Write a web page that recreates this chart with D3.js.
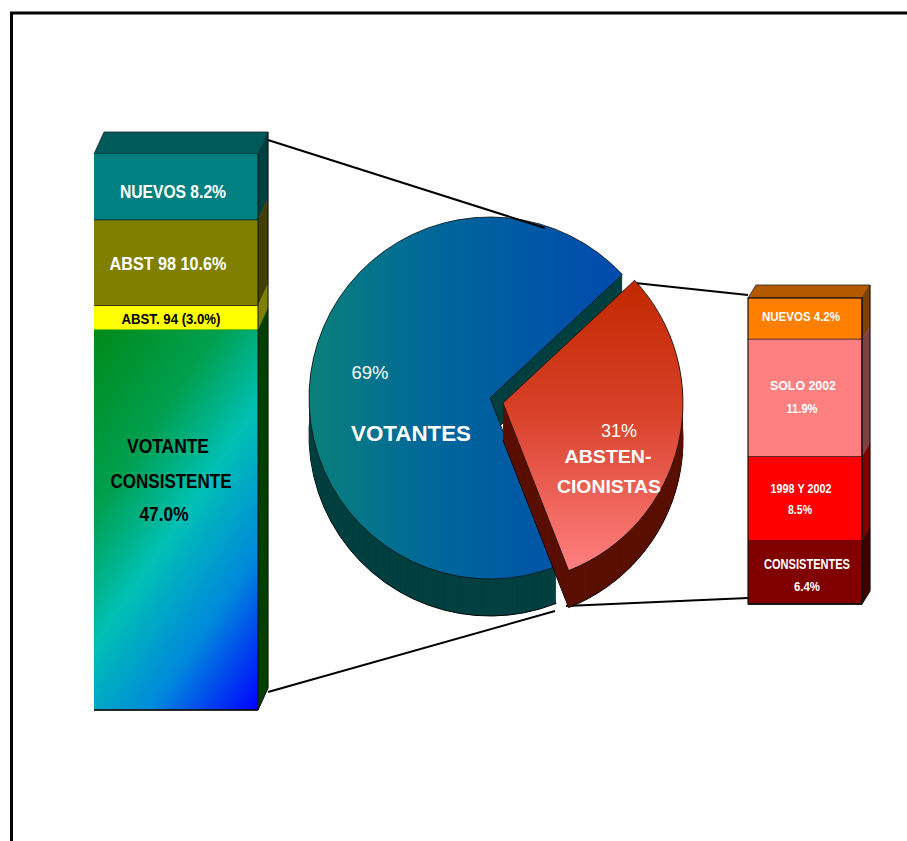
<!DOCTYPE html>
<html><head><meta charset="utf-8">
<script src="https://cdn.jsdelivr.net/npm/d3@7"></script>
<style>html,body{margin:0;padding:0;background:#fff}svg{display:block}text{font-family:"Liberation Sans",Arial,sans-serif}</style>
</head><body><svg id="c" width="907" height="841"></svg>
<script>
// ---- data ----
const pieNames = ["ABSTENCIONISTAS", "VOTANTES"];
const pieValues = [31, 69];
const leftNames = ["NUEVOS", "ABST 98", "ABST. 94", "VOTANTE CONSISTENTE"];
const leftValues = [8.2, 10.6, 3.0, 47.0];
const rightNames = ["NUEVOS", "SOLO 2002", "1998 Y 2002", "CONSISTENTES"];
const rightValues = [4.2, 11.9, 8.5, 6.4];
// ---- text ----
const leftTexts = ["NUEVOS  8.2%", "ABST 98  10.6%", "ABST. 94 (3.0%)", "VOTANTE", "CONSISTENTE", "47.0%"];
const pieTexts = ["69%", "VOTANTES", "31%", "ABSTEN-", "CIONISTAS"];
const rightTexts = ["NUEVOS  4.2%", "SOLO 2002", "11.9%", "1998 Y 2002", "8.5%", "CONSISTENTES", "6.4%"];
// ---- layout ----
const leftTextPos = [[173,198,106,19,700,"#fff"],[168,270,117,19,700,"#fff"],[171,324,99,15,700,"#000"],[168,453,82,20,700,"#000"],[171,488,121,20,700,"#000"],[164,521,49,20,700,"#000"]];
const pieTextPos = [[370,379,37,18,400,"#fff"],[411,441,120,22,700,"#fff"],[619,437,36,18,400,"#fff"],[608,463,87,19,700,"#fff"],[609,493,104,19,700,"#fff"]];
const rightTextPos = [[801,321,78,13,700,"#fff"],[803,390,66,13,700,"#fff"],[802,413,31,13,700,"#fff"],[801,493,61,12,700,"#fff"],[800,514,24,13,700,"#fff"],[807,569,86,14,700,"#fff"],[807,591,26,13,700,"#fff"]];

const svg = d3.select("#c");
svg.append("rect").attr("width",907).attr("height",841).attr("fill","#fff");
const defs = svg.append("defs");
function grad(id, attrs, stops){
  const g = defs.append("linearGradient").attr("id",id);
  Object.entries(attrs).forEach(([k,v])=>g.attr(k,v));
  stops.forEach(([o,c])=>g.append("stop").attr("offset",o).attr("stop-color",c));
}
grad("gGreen",{gradientUnits:"userSpaceOnUse",x1:94,y1:329,x2:383,y2:526},[[0,"#008a18"],[.3,"#00a050"],[.51,"#00c0b4"],[.75,"#0088dc"],[1,"#0000ff"]]);
// the two pie gradients are given relative to each slice's centre
grad("gBlue",{gradientUnits:"userSpaceOnUse",x1:-182,y1:0,x2:120,y2:0},[[0,"#0a807a"],[.4,"#00689a"],[1,"#004cac"]]);
grad("gRed",{gradientUnits:"userSpaceOnUse",x1:0,y1:-123,x2:0,y2:167},[[0,"#c02800"],[.45,"#d84028"],[1,"#ff8080"]]);

// frame
svg.append("path").attr("d","M11.5,841V13H907").attr("fill","none").attr("stroke","#000").attr("stroke-width",3);

// connector lines behind the pie
const lineGen = d3.line();
[[[268,692],[555,611]],[[635,283],[748,295]],[[566,606],[748,598]]].forEach(p=>
  svg.append("path").attr("d",lineGen(p)).attr("fill","none").attr("stroke","#000").attr("stroke-width",2));

// pie
const startDeg = 47 * Math.PI/180;
const slices = d3.pie().sort(null).startAngle(startDeg).endAngle(startDeg+2*Math.PI)(pieValues);
const sliceStyle = [
  {cx:503,cy:403,r:180,top:"url(#gRed)",side:"#5a1000"},
  {cx:490,cy:398,r:181,top:"url(#gBlue)",side:"#004040"}
];
const arc = d3.arc().innerRadius(0);
const depth = 37;
[1,0].forEach(i=>{
  const st = sliceStyle[i], d = arc.outerRadius(st.r)(slices[i]);
  const g = svg.append("g").attr("class","slice").attr("data-name",pieNames[i]);
  g.append("path").attr("d",d).attr("transform",`translate(${st.cx},${st.cy+depth})`).attr("fill",st.side).attr("stroke","#000").attr("stroke-width",1);
  d3.range(depth-1,0,-1).forEach(k=>
    g.append("path").attr("d",d).attr("transform",`translate(${st.cx},${st.cy+k})`).attr("fill",st.side));
  g.append("path").attr("d",d).attr("transform",`translate(${st.cx},${st.cy})`).attr("fill",st.top).attr("stroke","#111").attr("stroke-width",.8);
});
// upper connector runs along the pie's edge
svg.append("path").attr("d",lineGen([[268,140],[545,228]])).attr("fill","none").attr("stroke","#000").attr("stroke-width",2);

// stacked 3D bars
function bar3d(values, names, o){
  const y = d3.scaleLinear().domain([0,d3.sum(values)]).range([o.y0,o.y1]);
  let acc = 0;
  const poly = pts => lineGen(pts)+"Z";
  const g = svg.append("g");
  g.append("path").attr("d",poly([[o.x0,o.y0],[o.x0+o.dx,o.y0-o.dy],[o.x1+o.dx,o.y0-o.dy],[o.x1,o.y0]]))
    .attr("fill",o.topFill).attr("stroke","#222").attr("stroke-width",.8);
  values.forEach((v,i)=>{
    const a = y(acc), b = y(acc+v); acc += v;
    g.append("path").attr("d",poly([[o.x1,a],[o.x1+o.dx,a-o.dy],[o.x1+o.dx,b-o.dy],[o.x1,b]])).attr("fill",o.side[i]).attr("stroke",o.side[i]).attr("stroke-width",.5);
    g.append("rect").attr("data-name",names[i]).attr("x",o.x0).attr("y",a).attr("width",o.x1-o.x0).attr("height",b-a).attr("fill",o.fill[i]);
    g.append("line").attr("x1",o.x0).attr("x2",o.x1).attr("y1",b).attr("y2",b).attr("stroke",o.rule[i]).attr("stroke-width",1.5);
  });
  g.append("path").attr("d",`M${o.x1+o.dx},${o.y0-o.dy}V${o.y1-o.dy}L${o.x1},${o.y1}H${o.x0}`).attr("fill","none").attr("stroke","#111").attr("stroke-width",1);
  g.append("path").attr("d",`M${o.x1},${o.y0}V${o.y1}`).attr("stroke","#111").attr("stroke-width",1);
  if(o.box) g.append("rect").attr("x",o.x0).attr("y",o.y0).attr("width",o.x1-o.x0).attr("height",o.y1-o.y0).attr("fill","none").attr("stroke","#111").attr("stroke-width",1.2);
}
bar3d(leftValues,leftNames,{x0:94,x1:258,y0:154,y1:710,dx:10,dy:22,topFill:"#005a5a",
  fill:["#008080","#808000","#ffff00","url(#gGreen)"],side:["#004040","#404000","#808000","#004000"],rule:["#111","#111","#008a18","#111"]});
bar3d(rightValues,rightNames,{x0:748,x1:862,y0:298,y1:604,dx:8,dy:13,topFill:"#b35a00",box:true,
  fill:["#ff8000","#ff8080","#ff0000","#800000"],side:["#804000","#804040","#800000","#400000"],rule:["#111","#111","#800000","#111"]});

// labels
function labels(texts,pos){
  texts.forEach((t,i)=>{
    const [x,y,w,fs,fw,fill] = pos[i];
    svg.append("text").attr("x",x).attr("y",y).attr("text-anchor","middle").attr("font-size",fs).attr("font-weight",fw)
      .attr("fill",fill).attr("textLength",w).attr("lengthAdjust","spacingAndGlyphs").text(t);
  });
}
labels(leftTexts,leftTextPos);
labels(pieTexts,pieTextPos);
labels(rightTexts,rightTextPos);
</script></body></html>
